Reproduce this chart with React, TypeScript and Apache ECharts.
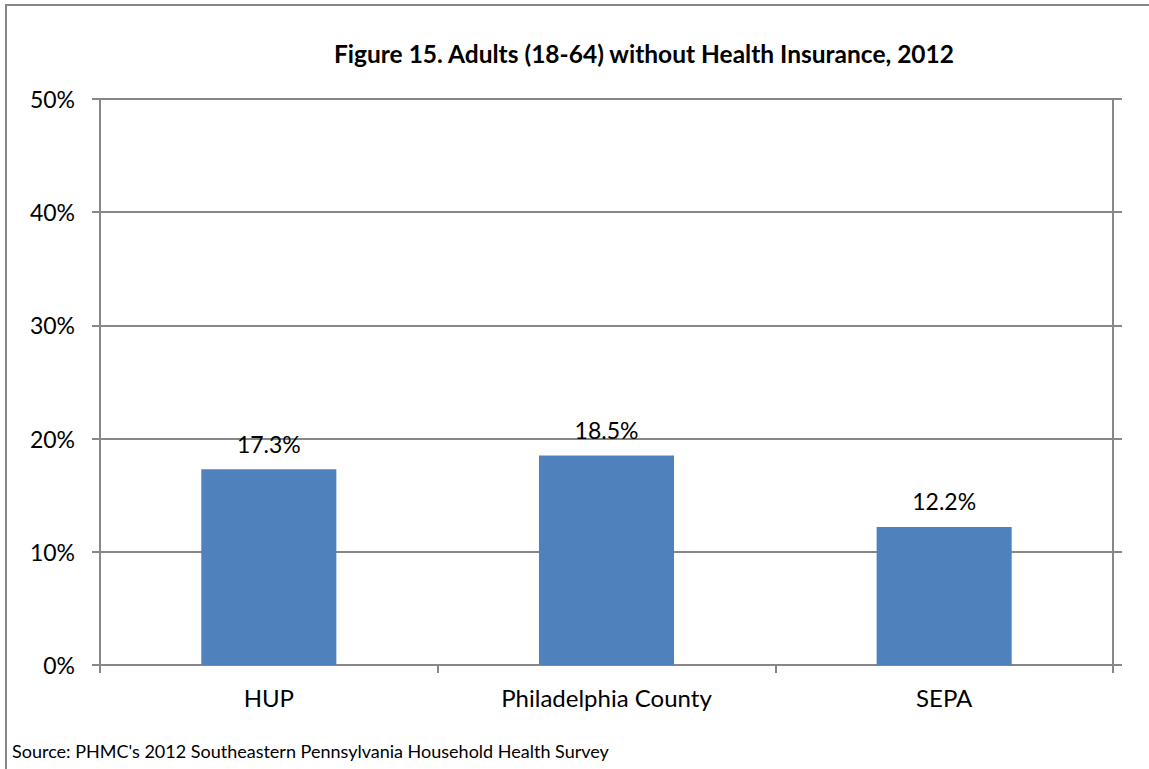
import React, { useEffect, useRef } from "react";
import * as echarts from "echarts";

const categories = ["HUP", "Philadelphia County", "SEPA"];
const values = [17.3, 18.5, 12.2];
const yTicks = { min: 0, max: 50, interval: 10 };
const titleText = "Figure 15. Adults (18-64) without Health Insurance, 2012";
const sourceText = "Source: PHMC's 2012 Southeastern Pennsylvania Household Health Survey";

const FONT = "Lato, 'Open Sans', sans-serif";
const GRAY = "#878787";

export default function App() {
  const ref = useRef<HTMLDivElement>(null);
  useEffect(() => {
    if (!ref.current) return;
    const chart = echarts.init(ref.current, undefined, { renderer: "svg" });
    chart.setOption({
      animation: false,
      backgroundColor: "#ffffff",
      grid: { left: 100, right: 36, top: 99, bottom: 104, containLabel: false },
      graphic: [
        {
          type: "rect",
          shape: { x: 6, y: 5, width: 1300, height: 900 },
          style: { fill: "none", stroke: GRAY, lineWidth: 2 },
          silent: true,
        },
        {
          type: "text",
          x: 644,
          y: 53,
          style: {
            text: titleText,
            font: `bold 24.5px ${FONT}`,
            fill: "#000",
            textAlign: "center",
            textVerticalAlign: "middle",
          },
        },
        {
          type: "text",
          x: 12,
          y: 751,
          style: {
            text: sourceText,
            font: `18px ${FONT}`,
            fill: "#000",
            textAlign: "left",
            textVerticalAlign: "middle",
          },
        },
      ],
      xAxis: {
        type: "category",
        data: categories,
        axisLine: { show: true, lineStyle: { color: GRAY, width: 2 } },
        axisTick: { show: true, length: 8, lineStyle: { color: GRAY, width: 2 } },
        axisLabel: { color: "#000", fontFamily: FONT, fontSize: 24, margin: 20 },
      },
      yAxis: [
        {
          type: "value",
          min: yTicks.min,
          max: yTicks.max,
          interval: yTicks.interval,
          axisLine: { show: true, lineStyle: { color: GRAY, width: 2 } },
          axisTick: { show: true, length: 8, lineStyle: { color: GRAY, width: 2 } },
          splitLine: { show: true, lineStyle: { color: GRAY, width: 2 } },
          axisLabel: {
            color: "#000",
            fontFamily: FONT,
            fontSize: 23,
            margin: 25,
            formatter: (v: number) => `${v}%`,
          },
        },
        {
          type: "value",
          position: "right",
          min: yTicks.min,
          max: yTicks.max,
          interval: yTicks.interval,
          axisLine: { show: true, lineStyle: { color: GRAY, width: 2 } },
          axisTick: { show: true, length: 9, lineStyle: { color: GRAY, width: 2 } },
          splitLine: { show: false },
          axisLabel: { show: false },
        },
      ],
      series: [
        {
          type: "bar",
          data: values,
          barWidth: "40%",
          itemStyle: { color: "#4F81BD" },
          label: {
            show: true,
            position: "top",
            distance: 14,
            color: "#000",
            fontFamily: FONT,
            fontSize: 23,
            formatter: (p: any) => `${p.value.toFixed(1)}%`,
          },
        },
      ],
    });
    return () => chart.dispose();
  }, []);
  return (
    <div
      ref={ref}
      style={{ position: "fixed", left: 0, top: 0, width: 1149, height: 769 }}
    />
  );
}
